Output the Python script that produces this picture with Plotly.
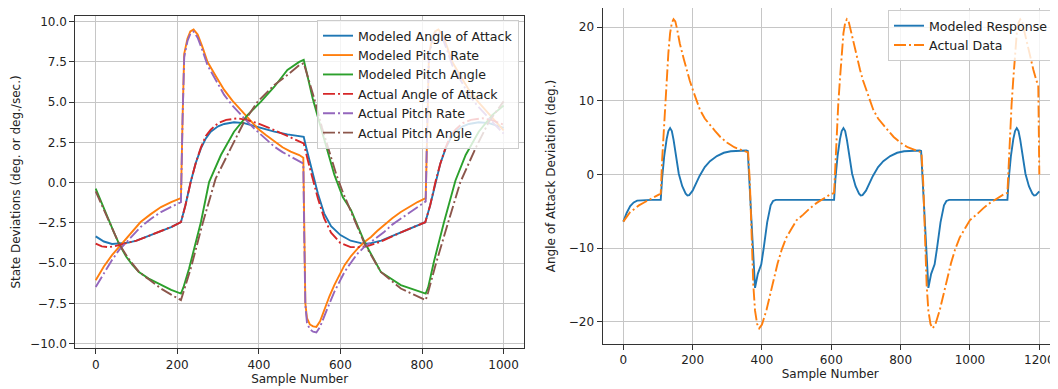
import plotly.graph_objects as go

# ---------------- Left chart data (sample number, value) ----------------
aoa_mod_x = [0, 20, 40, 57, 80, 100, 130, 160, 185, 209,
             220, 233, 245, 258, 270, 282, 300, 315, 339, 364, 397, 438, 470, 499, 510,
             515, 525, 535, 545, 560, 577, 600, 625, 650, 670, 700, 750, 808,
             820, 833, 845, 858, 870, 882, 900, 915, 939, 964, 1000]
aoa_mod_y = [-3.33, -3.65, -3.8, -3.78, -3.72, -3.6, -3.3, -3.0, -2.75, -2.45,
             -1.4, 0.06, 1.2, 2.13, 2.75, 3.17, 3.5, 3.65, 3.75, 3.7, 3.45, 3.17, 3.0, 2.9, 2.85,
             2.3, 1.3, 0.3, -0.7, -1.9, -2.7, -3.25, -3.6, -3.75, -3.78, -3.6, -3.06, -2.45,
             -1.4, 0.06, 1.2, 2.13, 2.75, 3.17, 3.5, 3.65, 3.75, 3.7, 3.4]

aoa_act_x = [0, 15, 30, 45, 60, 80, 100, 130, 160, 185, 209,
             220, 233, 245, 258, 270, 282, 300, 320, 348, 370, 397, 438, 470, 499, 510,
             520, 535, 545, 560, 577, 600, 625, 650, 670, 700, 750, 808,
             820, 833, 845, 858, 870, 882, 900, 920, 948, 970, 1000]
aoa_act_y = [-3.78, -3.95, -4.0, -3.95, -3.85, -3.72, -3.6, -3.3, -3.0, -2.75, -2.45,
             -1.4, 0.06, 1.2, 2.2, 2.9, 3.3, 3.7, 3.9, 4.0, 3.9, 3.69, 3.27, 2.9, 2.55, 2.44,
             1.4, 0.0, -1.0, -2.2, -3.1, -3.75, -4.0, -4.0, -3.9, -3.65, -3.06, -2.45,
             -1.4, 0.06, 1.2, 2.2, 2.9, 3.3, 3.7, 3.9, 4.0, 3.9, 3.6]

rate_x = [0, 20, 40, 57, 80, 110, 135, 160, 185, 209,
          213, 217, 225, 232, 240, 250, 262, 274, 295, 315, 335, 356, 377, 397, 418, 438, 458, 478, 499, 509,
          511, 514, 518, 525, 533, 541, 550, 561, 573, 585, 598, 610, 626, 642, 658, 675, 690, 707, 727, 748, 768, 789, 809,
          813, 817, 825, 832, 840, 850, 862, 874, 895, 915, 935, 956, 977, 1000]
rate_mod_y = [-6.05, -5.2, -4.5, -3.99, -3.3, -2.44, -1.95, -1.51, -1.2, -0.95,
              4.0, 8.0, 8.96, 9.4, 9.52, 9.2, 8.4, 7.51, 6.6, 5.76, 5.1, 4.51, 3.9, 3.37, 2.95, 2.55, 2.2, 1.93, 1.72, 1.55,
              -3.0, -7.5, -8.4, -8.8, -8.92, -8.95, -8.6, -7.8, -7.05, -6.36, -5.7, -5.12, -4.55, -4.09, -3.7, -3.37, -3.0, -2.64, -2.2, -1.82, -1.5, -1.2, -0.95,
              4.0, 8.0, 8.96, 9.4, 9.52, 9.2, 8.4, 7.51, 6.6, 5.76, 5.1, 4.51, 3.9, 3.25]
rate_act_y = [-6.47, -5.6, -4.8, -4.19, -3.55, -2.75, -2.25, -1.82, -1.5, -1.2,
              4.0, 7.8, 8.8, 9.25, 9.38, 9.0, 8.2, 7.3, 6.35, 5.45, 4.8, 4.2, 3.65, 3.17, 2.7, 2.24, 1.9, 1.62, 1.3, 1.2,
              -3.0, -7.6, -8.7, -9.1, -9.25, -9.3, -8.95, -8.2, -7.5, -6.78, -6.1, -5.54, -4.95, -4.4, -4.0, -3.68, -3.35, -3.06, -2.6, -2.23, -1.85, -1.51, -1.16,
              4.0, 7.8, 8.8, 9.25, 9.38, 9.0, 8.2, 7.3, 6.35, 5.45, 4.8, 4.2, 3.65, 3.05]

pitch_mod_x = [0, 15, 30, 45, 57, 75, 90, 106, 130, 160, 185, 209,
               215, 229, 244, 258, 278, 307, 339, 372, 405, 438, 470, 499, 510,
               532, 550, 565, 585, 606, 626, 659, 699, 748, 780, 809,
               815, 829, 854, 882, 907, 939, 972, 1000]
pitch_mod_y = [-0.37, -1.3, -2.2, -3.1, -3.78, -4.6, -5.1, -5.54, -5.95, -6.36, -6.65, -6.88,
               -6.5, -5.33, -3.9, -2.44, 0.04, 1.72, 3.17, 4.2, 5.03, 5.96, 7.0, 7.5, 7.63,
               5.23, 3.6, 2.27, 0.5, -0.9, -1.7, -3.68, -5.54, -6.36, -6.65, -6.88,
               -6.5, -4.92, -2.44, 0.14, 1.72, 3.17, 4.2, 4.8]

pitch_act_x = [0, 15, 30, 45, 57, 80, 106, 130, 160, 185, 209,
               215, 233, 262, 294, 331, 364, 397, 438, 470, 499, 510,
               535, 555, 570, 590, 606, 626, 659, 699, 748, 780, 809,
               815, 833, 862, 894, 931, 964, 1000]
pitch_act_y = [-0.54, -1.4, -2.3, -3.15, -3.78, -4.7, -5.54, -6.0, -6.57, -6.95, -7.29,
               -6.8, -5.33, -2.54, 0.25, 2.13, 3.79, 5.03, 6.07, 6.69, 7.3, 7.42,
               5.3, 3.4, 2.1, 0.5, -0.6, -1.82, -3.78, -5.54, -6.57, -6.95, -7.29,
               -6.8, -5.12, -2.64, 0.04, 2.13, 3.79, 5.05]

# ---------------- Right chart data ----------------
resp_x = [0, 10, 20, 30, 40, 60, 80, 100, 108,
          112, 118, 125, 130, 135, 140, 145, 150, 155, 160, 170, 180, 185, 190, 200, 210, 220, 235, 250, 270, 290, 310, 330, 355, 359,
          365, 370, 375, 380, 388, 398, 405, 415, 425, 432, 440, 450, 500, 550, 600, 608,
          612, 618, 625, 630, 635, 640, 645, 650, 655, 660, 670, 680, 685, 690, 700, 710, 720, 735, 750, 770, 790, 810, 830, 855, 859,
          865, 870, 875, 880, 888, 898, 905, 915, 925, 932, 940, 950, 1000, 1050, 1100, 1108,
          1112, 1118, 1125, 1130, 1135, 1140, 1145, 1150, 1155, 1160, 1170, 1180, 1185, 1190, 1200]
resp_y = [-6.4, -5.2, -4.3, -3.8, -3.55, -3.45, -3.45, -3.45, -3.45,
          -0.5, 2.5, 4.8, 5.9, 6.3, 5.9, 4.7, 3.0, 1.4, 0.1, -1.6, -2.6, -2.85, -2.8, -2.2, -1.2, -0.2, 1.0, 1.8, 2.5, 2.95, 3.15, 3.22, 3.25, 3.2,
          -2.0, -6.5, -11.0, -15.4, -13.5, -12.2, -10.0, -6.5, -4.2, -3.6, -3.45, -3.45, -3.45, -3.45, -3.45, -3.45,
          -0.5, 2.5, 4.8, 5.9, 6.3, 5.9, 4.7, 3.0, 1.4, 0.1, -1.6, -2.6, -2.85, -2.8, -2.2, -1.2, -0.2, 1.0, 1.8, 2.5, 2.95, 3.15, 3.22, 3.25, 3.2,
          -2.0, -6.5, -11.0, -15.4, -13.5, -12.2, -10.0, -6.5, -4.2, -3.6, -3.45, -3.45, -3.45, -3.45, -3.45, -3.45,
          -0.5, 2.5, 4.8, 5.9, 6.3, 5.9, 4.7, 3.0, 1.4, 0.1, -1.6, -2.6, -2.85, -2.8, -2.3]

data_x = [0, 10, 20, 30, 45, 60, 80, 100, 108,
          112, 116, 120, 125, 130, 135, 140, 145, 150, 155, 163, 175, 183, 192, 202, 212, 221, 235, 250, 265, 280, 300, 320, 340, 355, 360,
          365, 370, 375, 380, 386, 392, 400, 413, 423, 433, 445, 457, 470, 486, 500, 519, 538, 558, 577, 596, 608,
          612, 616, 620, 625, 630, 635, 640, 645, 650, 655, 663, 675, 683, 692, 702, 712, 721, 735, 750, 765, 780, 800, 820, 840, 855, 860,
          865, 870, 875, 880, 886, 892, 900, 913, 923, 933, 945, 957, 970, 986, 1000, 1019, 1038, 1058, 1077, 1096, 1108,
          1112, 1116, 1120, 1125, 1130, 1135, 1140, 1145, 1150, 1155, 1163, 1175, 1183, 1192, 1197, 1200]
data_y = [-6.4, -5.7, -5.1, -4.75, -4.2, -3.8, -3.3, -2.8, -2.6,
          2.0, 5.5, 9.5, 13.0, 16.5, 19.2, 20.6, 21.1, 20.8, 19.8, 17.8, 15.6, 14.2, 12.7, 11.3, 10.0, 8.8, 7.6, 6.7, 5.9, 5.1, 4.3, 3.7, 3.3, 3.1, 3.0,
          -1.0, -8.0, -15.0, -18.5, -20.3, -20.9, -20.4, -18.4, -16.3, -14.3, -12.1, -10.2, -8.6, -7.3, -6.2, -5.45, -4.6, -3.86, -3.25, -2.73, -2.5,
          2.0, 5.5, 9.5, 13.0, 16.5, 19.2, 20.6, 21.1, 20.8, 19.8, 17.8, 15.6, 14.2, 12.7, 11.3, 10.0, 8.8, 7.6, 6.7, 5.9, 5.1, 4.3, 3.7, 3.3, 3.1, 3.0,
          -1.0, -8.0, -15.0, -18.5, -20.3, -20.9, -20.4, -18.4, -16.3, -14.3, -12.1, -10.2, -8.6, -7.3, -6.2, -5.45, -4.6, -3.86, -3.25, -2.73, -2.5,
          2.0, 5.5, 9.5, 13.0, 16.5, 19.2, 20.6, 21.1, 20.8, 19.8, 17.8, 15.6, 14.2, 12.7, 12.2, 0.0]

# ---------------- Styling ----------------
# The page body has an 8px margin, so the figure is sized to fill the rest of the window.
OFF = 8
W, H = 1058 - OFF, 389 - OFF
FONT = "DejaVu Sans"
C = ["#1f77b4", "#ff7f0e", "#2ca02c", "#d62728", "#9467bd", "#8c564b"]
LW = 1.9
DASHDOT = "12px,3px,2px,3px"

fig = go.Figure()

left = [
    ("Modeled Angle of Attack", aoa_mod_x, aoa_mod_y, C[0], "solid"),
    ("Modeled Pitch Rate", rate_x, rate_mod_y, C[1], "solid"),
    ("Modeled Pitch Angle", pitch_mod_x, pitch_mod_y, C[2], "solid"),
    ("Actual Angle of Attack", aoa_act_x, aoa_act_y, C[3], DASHDOT),
    ("Actual Pitch Rate", rate_x, rate_act_y, C[4], DASHDOT),
    ("Actual Pitch Angle", pitch_act_x, pitch_act_y, C[5], DASHDOT),
]
for name, xs, ys, col, dash in left:
    fig.add_trace(go.Scatter(x=xs, y=ys, name=name, mode="lines",
                             line=dict(color=col, width=LW, dash=dash),
                             xaxis="x", yaxis="y", legend="legend"))

fig.add_trace(go.Scatter(x=resp_x, y=resp_y, name="Modeled Response", mode="lines",
                         line=dict(color=C[0], width=LW), xaxis="x2", yaxis="y2", legend="legend2"))
fig.add_trace(go.Scatter(x=data_x, y=data_y, name="Actual Data", mode="lines",
                         line=dict(color=C[1], width=LW, dash=DASHDOT), xaxis="x2", yaxis="y2", legend="legend2"))

axis_common = dict(showgrid=True, gridcolor="#c6c6c6", gridwidth=1, zeroline=False,
                   showline=True, linecolor="#333333", linewidth=1,
                   ticks="outside", ticklen=5, tickcolor="#333333", automargin=False,
                   tickfont=dict(family=FONT, size=12, color="#222222"))

def px_x(p):
    return (p - OFF) / W

def px_y(p):
    return 1 - (p - OFF) / H

LEG_FONT = dict(family=FONT, size=12.6, color="#222222")

fig.update_layout(
    width=W, height=H,
    margin=dict(l=0, r=0, t=0, b=0, autoexpand=False),
    paper_bgcolor="white", plot_bgcolor="white",
    font=dict(family=FONT, size=12, color="#222222"),
    xaxis=dict(domain=[px_x(75.3), px_x(524.0)], range=[-50, 1050], tick0=0, dtick=200,
               anchor="y", mirror=True,
               title=dict(text="Sample Number", standoff=2, font=dict(family=FONT, size=12)),
               **axis_common),
    yaxis=dict(domain=[px_y(348.3), px_y(15.7)], range=[-10.28, 10.37], tick0=0, dtick=2.5,
               tickformat=".1f", anchor="x", mirror=True,
               title=dict(text="State Deviations (deg. or deg./sec.)", standoff=6,
                          font=dict(family=FONT, size=12)),
               **axis_common),
    xaxis2=dict(domain=[px_x(602.5), 1.0], range=[-60, 1253.9], tick0=0, dtick=200,
                anchor="y2", mirror=True,
                title=dict(text="Sample Number", standoff=2, font=dict(family=FONT, size=12)),
                **axis_common),
    yaxis2=dict(domain=[px_y(344.0), 1.0], range=[-23.03, 22.62],
                tick0=0, dtick=10, anchor="x2", mirror=False,
                title=dict(text="Angle of Attack Deviation (deg.)", standoff=10,
                           font=dict(family=FONT, size=12)),
                **axis_common),
    legend=dict(x=px_x(317), y=px_y(20), xanchor="left", yanchor="top",
                bgcolor="rgba(255,255,255,0.8)", bordercolor="#cccccc", borderwidth=1,
                font=LEG_FONT, tracegroupgap=0),
    legend2=dict(x=px_x(888), y=px_y(10), xanchor="left", yanchor="top",
                 bgcolor="rgba(255,255,255,0.8)", bordercolor="#cccccc", borderwidth=1,
                 font=LEG_FONT, tracegroupgap=0),
    showlegend=True,
)

fig.write_html("out.html")
